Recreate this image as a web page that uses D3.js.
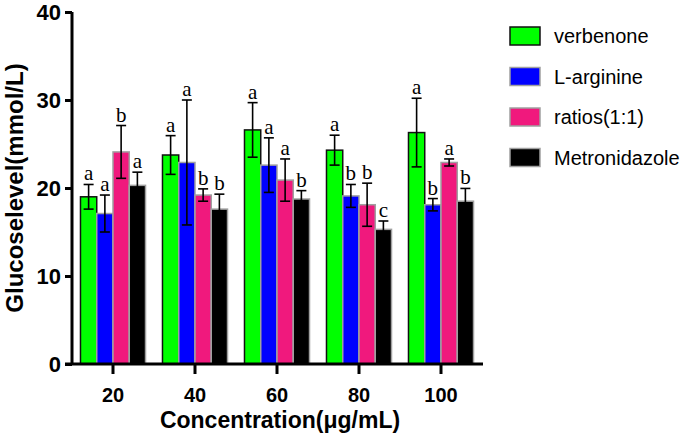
<!DOCTYPE html>
<html><head><meta charset="utf-8">
<script src="https://cdn.jsdelivr.net/npm/d3@7"></script>
<style>body{margin:0;background:#fff;}svg{display:block;}</style>
</head><body>
<script>
const categories = ["20", "40", "60", "80", "100"];
const seriesNames = ["verbenone", "L-arginine", "ratios(1:1)", "Metronidazole"];
const verbenone = [19.0, 23.75, 26.6, 24.3, 26.3];
const lArginine = [17.1, 22.9, 22.6, 19.1, 18.1];
const ratios = [24.1, 19.2, 20.9, 18.1, 22.9];
const metronidazole = [20.3, 17.6, 18.75, 15.3, 18.5];
const errVerbenone = [1.4, 2.2, 3.1, 1.7, 3.9];
const errLArginine = [2.1, 7.1, 3.1, 1.3, 0.7];
const errRatios = [3.0, 0.7, 2.4, 2.45, 0.4];
const errMetronidazole = [1.5, 1.7, 0.95, 0.95, 1.45];
const lettersVerbenone = ["a", "a", "a", "a", "a"];
const lettersLArginine = ["a", "a", "a", "b", "b"];
const lettersRatios = ["b", "b", "a", "b", "a"];
const lettersMetronidazole = ["a", "b", "b", "c", "b"];
const yTicks = [0, 10, 20, 30, 40];

const values = [verbenone, lArginine, ratios, metronidazole];
const errors = [errVerbenone, errLArginine, errRatios, errMetronidazole];
const letters = [lettersVerbenone, lettersLArginine, lettersRatios, lettersMetronidazole];
const fills = ["#00ff00", "#0000ff", "#f0197d", "#000000"];
const strokes = ["#111111", "#a0a0a0", "#a0a0a0", "#a0a0a0"];

const W = 685, H = 438;
const svg = d3.select("body").append("svg").attr("width", W).attr("height", H);

const x = d3.scaleBand().domain(categories).range([72, 482]).paddingInner(0.207).paddingOuter(0.1035);
const xs = d3.scaleBand().domain(seriesNames).range([0, x.bandwidth()]);
const y = d3.scaleLinear().domain([0, 40]).range([364, 12]);

const data = [];
categories.forEach((c, i) => {
  seriesNames.forEach((s, j) => {
    data.push({c, s, j, v: values[j][i], e: errors[j][i], l: letters[j][i]});
  });
});

const g = svg.append("g");
g.selectAll("rect.bar").data(data).join("rect").attr("class", "bar")
  .attr("x", d => x(d.c) + xs(d.s))
  .attr("y", d => y(d.v))
  .attr("width", xs.bandwidth())
  .attr("height", d => y(0) - y(d.v))
  .attr("fill", d => fills[d.j])
  .attr("stroke", d => strokes[d.j])
  .attr("stroke-width", 1.5);

const cx = d => x(d.c) + xs(d.s) + xs.bandwidth() / 2;
const eb = g.selectAll("g.err").data(data).join("g").attr("class", "err")
  .attr("stroke", "#000").attr("stroke-width", 1.6);
eb.append("line").attr("x1", cx).attr("x2", cx).attr("y1", d => y(d.v + d.e)).attr("y2", d => y(d.v - d.e));
eb.append("line").attr("x1", d => cx(d) - 5).attr("x2", d => cx(d) + 5).attr("y1", d => y(d.v + d.e)).attr("y2", d => y(d.v + d.e));
eb.append("line").attr("x1", d => cx(d) - 5).attr("x2", d => cx(d) + 5).attr("y1", d => y(d.v - d.e)).attr("y2", d => y(d.v - d.e));

g.selectAll("text.let").data(data).join("text").attr("class", "let")
  .attr("x", cx).attr("y", d => y(d.v + d.e) - 4)
  .attr("text-anchor", "middle")
  .attr("font-family", "'Liberation Serif', 'Times New Roman', serif")
  .attr("font-size", 21).attr("fill", "#000")
  .text(d => d.l);

// Y axis
const yAxis = svg.append("g").attr("transform", "translate(72,0)")
  .call(d3.axisLeft(y).tickValues(yTicks).tickSize(7).tickPadding(4).tickFormat(d3.format("d")));
yAxis.select(".domain").attr("stroke", "#000").attr("stroke-width", 3).attr("d", `M0,${y(40)}V${y(0)}`);
yAxis.selectAll(".tick line").attr("stroke", "#000").attr("stroke-width", 3);
yAxis.selectAll(".tick text").attr("font-family", "'Liberation Sans', Arial, sans-serif")
  .attr("font-weight", "bold").attr("font-size", 22).attr("fill", "#000").attr("dy", "0.36em");

// X axis
const xAxis = svg.append("g").attr("transform", `translate(0,${y(0)})`)
  .call(d3.axisBottom(x).tickSize(10).tickPadding(14));
xAxis.select(".domain").attr("stroke", "#000").attr("stroke-width", 3).attr("d", "M65,0H483");
xAxis.selectAll(".tick line").attr("stroke", "#000").attr("stroke-width", 3);
xAxis.selectAll(".tick text").attr("font-family", "'Liberation Sans', Arial, sans-serif")
  .attr("font-weight", "bold").attr("font-size", 20).attr("fill", "#000");

// Titles
svg.append("text").attr("x", 280).attr("y", 428).attr("text-anchor", "middle")
  .attr("font-family", "'Liberation Sans', Arial, sans-serif").attr("font-weight", "bold")
  .attr("font-size", 23).attr("fill", "#000").text("Concentration(μg/mL)");
svg.append("text").attr("transform", "translate(23,188) rotate(-90)").attr("text-anchor", "middle")
  .attr("font-family", "'Liberation Sans', Arial, sans-serif").attr("font-weight", "bold")
  .attr("font-size", 24).attr("fill", "#000").text("Glucoselevel(mmol/L)");

// Legend
const leg = svg.append("g").attr("transform", "translate(510,27)");
const li = leg.selectAll("g").data(seriesNames).join("g").attr("transform", (d, i) => `translate(0,${i * 40.5})`);
li.append("rect").attr("width", 30).attr("height", 18)
  .attr("fill", (d, i) => fills[i]).attr("stroke", (d, i) => strokes[i]).attr("stroke-width", 1.5);
li.append("text").attr("x", 44).attr("y", 9).attr("dy", "0.35em")
  .attr("font-family", "'Liberation Sans', Arial, sans-serif").attr("font-size", 20).attr("fill", "#000")
  .text(d => d);
</script>
</body></html>
